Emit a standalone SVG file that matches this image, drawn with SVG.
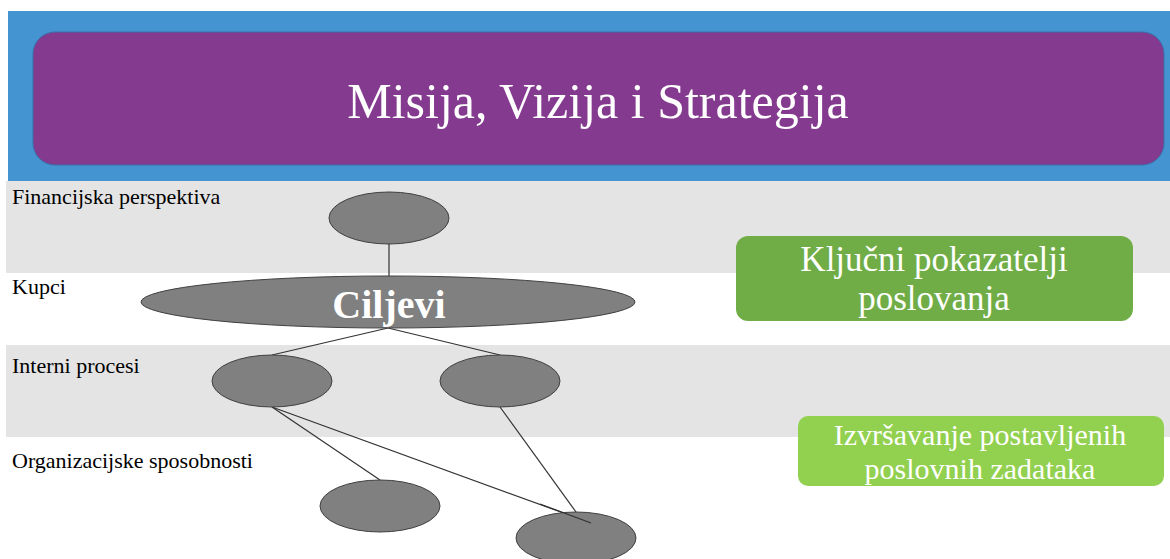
<svg xmlns="http://www.w3.org/2000/svg" width="1170" height="559" viewBox="0 0 1170 559">
<style>
.lbl{font-family:"Liberation Serif","Times New Roman",serif;font-size:22px;fill:#000}
.ell{fill:#808080;stroke:#404040;stroke-width:1}
.con{stroke:#333;stroke-width:1.2;fill:none}
.wt{font-family:"Liberation Serif","Times New Roman",serif;fill:#fff;text-anchor:middle}
</style>
<rect x="0" y="0" width="1170" height="559" fill="#fff"/>
<g id="bands">
<rect x="8" y="11" width="1162" height="170" fill="#4394d0"/>
<rect x="6" y="181" width="1164" height="92" fill="#e4e4e4"/>
<rect x="6" y="345" width="1164" height="92" fill="#e4e4e4"/>
<text class="lbl" x="12" y="204">Financijska perspektiva</text>
<text class="lbl" x="12" y="294">Kupci</text>
<text class="lbl" x="12" y="373">Interni procesi</text>
<text class="lbl" x="12" y="468">Organizacijske sposobnosti</text>
</g>
<g id="misija">
<rect x="33" y="32" width="1131" height="133" rx="22" fill="#843a8e" stroke="#3a6ea8" stroke-width="1"/>
<text class="wt" x="598" y="118" font-size="50">Misija, Vizija i Strategija</text>
</g>
<g id="connectors">
<line class="con" x1="389" y1="244" x2="389" y2="277"/>
<line class="con" x1="388" y1="328" x2="272" y2="355"/>
<line class="con" x1="388" y1="328" x2="500" y2="355"/>
<line class="con" x1="272" y1="407" x2="380" y2="480"/>
<line class="con" x1="272" y1="407" x2="591" y2="523"/>
<line class="con" x1="500" y1="407" x2="576" y2="512"/>
</g>
<g id="n-fin"><ellipse class="ell" cx="389" cy="218" rx="60" ry="26"/></g>
<g id="n-ciljevi">
<ellipse class="ell" cx="388" cy="302" rx="247" ry="26"/>
<text class="wt" x="389" y="318" font-size="40" font-weight="bold">Ciljevi</text>
</g>
<g id="n-int1"><ellipse class="ell" cx="272" cy="381" rx="60" ry="26"/></g>
<g id="n-int2"><ellipse class="ell" cx="500" cy="381" rx="60" ry="26"/></g>
<g id="n-org1"><ellipse class="ell" cx="380" cy="506" rx="60" ry="26"/></g>
<g id="n-org2"><ellipse class="ell" cx="576" cy="538" rx="60" ry="26"/></g>
<line class="con" x1="540" y1="504" x2="591" y2="523"/>
<g id="kpi">
<rect x="736" y="236" width="397" height="85" rx="12" fill="#70ad47"/>
<text class="wt" x="934" y="271" font-size="35">Ključni pokazatelji</text>
<text class="wt" x="934" y="310" font-size="35">poslovanja</text>
</g>
<g id="izvrsavanje">
<rect x="798" y="416" width="366" height="70" rx="10" fill="#92d050"/>
<text class="wt" x="980" y="445" font-size="30">Izvršavanje postavljenih</text>
<text class="wt" x="980" y="479" font-size="30">poslovnih zadataka</text>
</g>
</svg>
